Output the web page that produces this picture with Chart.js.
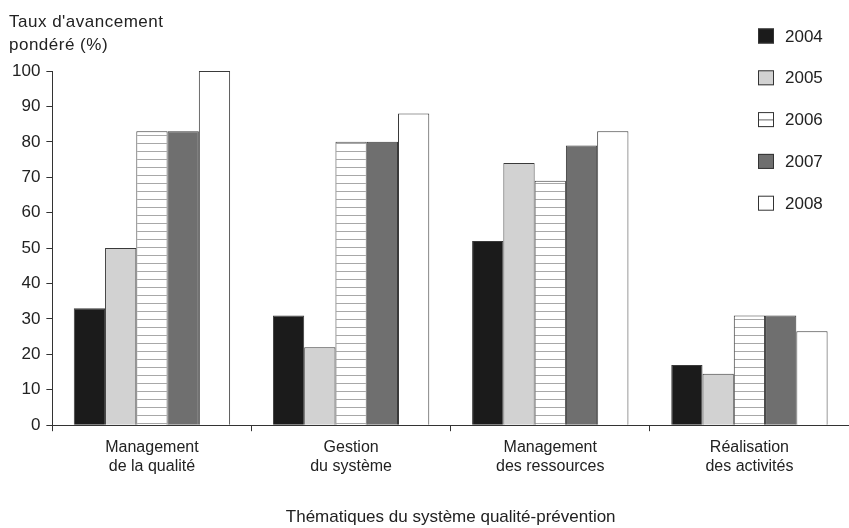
<!DOCTYPE html>
<html>
<head>
<meta charset="utf-8">
<script src="https://cdn.jsdelivr.net/npm/chart.js@4/dist/chart.umd.min.js"></script>
<style>
  html, body { margin: 0; padding: 0; background: #fff; }
  #wrap { width: 849px; height: 528px; }
</style>
</head>
<body>
<div id="wrap"><canvas id="chart"></canvas></div>
<script>
const categories = [
    ['Management', 'de la qualité'],
    ['Gestion', 'du système'],
    ['Management', 'des ressources'],
    ['Réalisation', 'des activités']
]
const years = ['2004', '2005', '2006', '2007', '2008']
const values2004 = [33, 31, 52, 17]
const values2005 = [50, 22, 74, 14.5]
const values2006 = [83, 80, 69, 31]
const values2007 = [83, 80, 79, 31]
const values2008 = [100, 88, 83, 26.5]
const yTitle = ["Taux d'avancement", 'pondéré (%)']
const xTitle = 'Thématiques du système qualité-prévention'

const fontFamily = '"Liberation Sans", Arial, Helvetica, sans-serif'
const textColor = '#222'

// horizontal hatching for 2006
function makeHatch() {
    const c = document.createElement('canvas')
    c.width = 8
    c.height = 8
    const ctx = c.getContext('2d')
    ctx.fillStyle = '#fff'
    ctx.fillRect(0, 0, 8, 8)
    ctx.fillStyle = '#a8a8a8'
    ctx.fillRect(0, 7, 8, 1)
    return ctx.createPattern(c, 'repeat')
}
const hatch = makeHatch()

const fills = ['#1b1b1b', '#d2d2d2', hatch, '#6f6f6f', '#ffffff']
const seriesValues = [values2004, values2005, values2006, values2007, values2008]

// title (top left) and legend (top right) drawn by hand
const extrasPlugin = {
    id: 'extras',
    afterDraw(chart) {
        const ctx = chart.ctx
        ctx.save()
        ctx.fillStyle = textColor
        ctx.font = '17px ' + fontFamily
        ctx.textAlign = 'left'
        ctx.textBaseline = 'alphabetic'
        ctx.letterSpacing = '0.5px'
        ctx.fillText(yTitle[0], 9, 27)
        ctx.fillText(yTitle[1], 9, 50)
        ctx.letterSpacing = '0px'

        ctx.font = '17px ' + fontFamily
        ctx.textBaseline = 'middle'
        years.forEach((y, i) => {
            const cy = 36 + i * 41.8
            const bx = 758, by = cy - 7.5
            ctx.fillStyle = fills[i]
            ctx.fillRect(bx, by, 16, 15)
            if (i === 2) {
                ctx.fillStyle = '#999'
                ctx.fillRect(bx, cy, 16, 1)
            }
            ctx.strokeStyle = '#333'
            ctx.lineWidth = 1
            ctx.strokeRect(bx + 0.5, by + 0.5, 15, 14)
            ctx.fillStyle = textColor
            ctx.fillText(y, 785, cy + 1)
        })
        ctx.restore()
    }
}

new Chart(document.getElementById('chart').getContext('2d'), {
    type: 'bar',
    data: {
        labels: categories,
        datasets: years.map((y, i) => ({
            label: y,
            data: seriesValues[i],
            backgroundColor: fills[i],
            borderColor: '#3a3a3a',
            borderWidth: 1,
            categoryPercentage: 0.785,
            barPercentage: 1
        }))
    },
    options: {
        responsive: true,
        maintainAspectRatio: false,
        animation: false,
        layout: { padding: { top: 71, left: 6, right: 0, bottom: 0 } },
        plugins: {
            legend: { display: false },
            tooltip: { enabled: false }
        },
        scales: {
            x: {
                grid: { display: true, drawOnChartArea: false, drawTicks: true, tickLength: 6, color: '#333' },
                border: { display: true, color: '#333', width: 1 },
                ticks: { color: textColor, font: { family: fontFamily, size: 16 }, padding: 7, maxRotation: 0 },
                title: {
                    display: true,
                    text: xTitle,
                    color: textColor,
                    font: { family: fontFamily, size: 17 },
                    padding: { top: 24, bottom: 0 }
                }
            },
            y: {
                min: 0,
                max: 100,
                grid: { display: true, drawOnChartArea: false, drawTicks: true, tickLength: 6, color: '#333' },
                border: { display: true, color: '#333', width: 1 },
                ticks: { stepSize: 10, color: textColor, font: { family: fontFamily, size: 17 }, padding: 6 }
            }
        }
    },
    plugins: [extrasPlugin]
})
</script>
</body>
</html>
